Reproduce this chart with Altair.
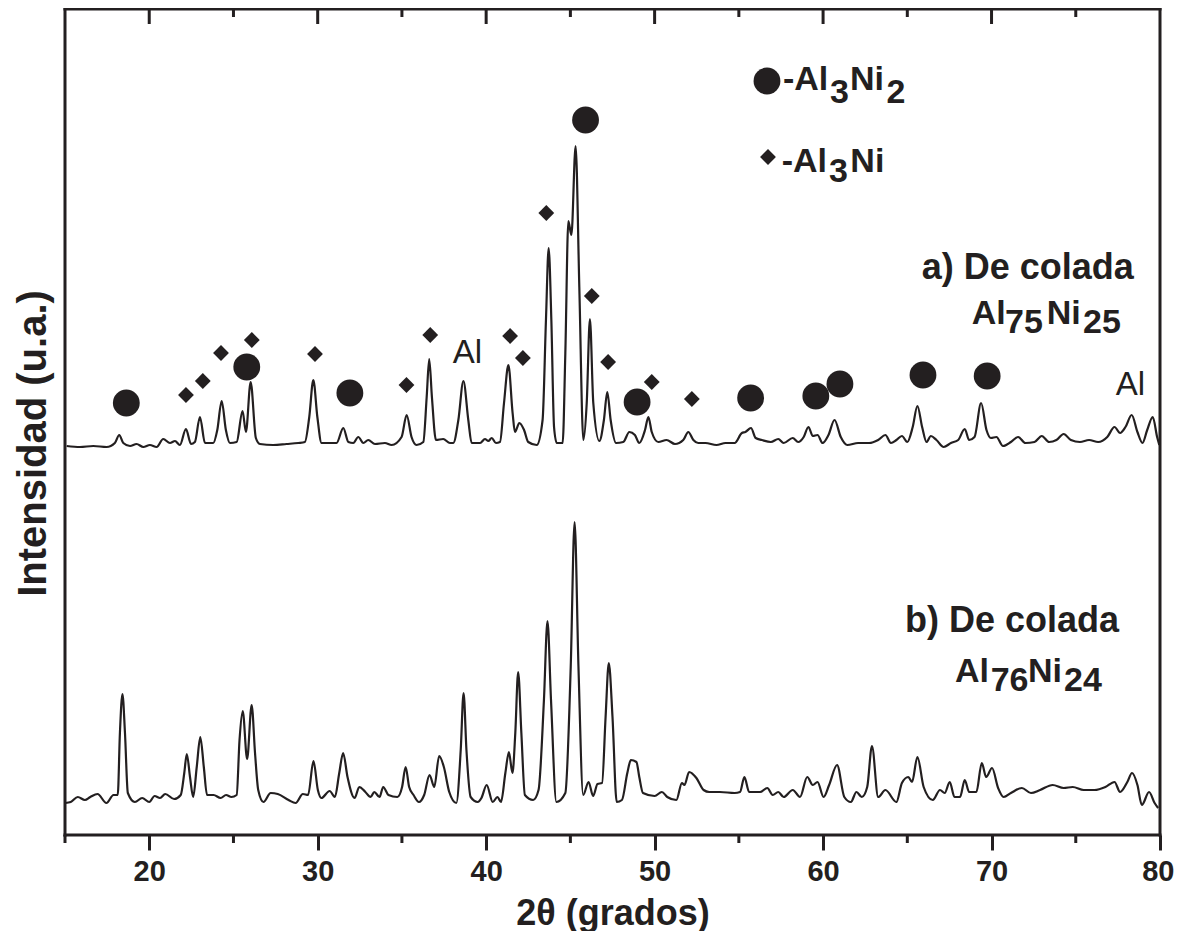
import altair as alt
import pandas as pd

INK = "#231f20"
FONT = "Liberation Sans"

# ---------------- data ----------------
# trace a) De colada Al75Ni25 (upper)
a_x = [15.10, 15.89, 16.68, 17.47, 17.96, 18.22, 18.46, 18.86, 19.25, 19.65, 20.04, 20.44, 20.83, 21.23,
       21.53, 21.82, 22.18, 22.48, 22.71, 23.01, 23.31, 23.80, 24.04, 24.30, 24.55, 24.79, 25.19, 25.54,
       25.74, 26.02, 26.33, 26.57, 27.36, 28.15, 28.85, 29.24, 29.50, 29.74, 29.98, 30.23, 31.12, 31.52,
       31.82, 32.11, 32.41, 32.71, 33.00, 33.40, 33.99, 34.39, 34.98, 35.28, 35.57, 35.87, 36.27, 36.47,
       36.62, 36.78, 37.02, 37.45, 37.85, 38.05, 38.35, 38.65, 38.94, 39.14, 39.64, 39.93, 40.13, 40.33,
       40.58, 40.82, 41.06, 41.32, 41.57, 41.71, 41.97, 42.25, 42.50, 43.00, 43.35, 43.55, 43.71, 43.87,
       44.03, 44.19, 44.54, 44.70, 44.88, 45.06, 45.31, 45.53, 45.77, 45.97, 46.16, 46.36, 46.72, 46.99,
       47.19, 47.39, 47.71, 48.14, 48.50, 48.83, 49.09, 49.43, 49.63, 49.83, 50.22, 50.71, 51.21, 51.70,
       52.00, 52.30, 52.59, 53.02, 53.67, 54.21, 54.75, 55.18, 55.39, 55.72, 56.00, 56.37, 56.90, 57.34,
       57.66, 58.20, 58.52, 58.85, 59.13, 59.39, 59.67, 59.97, 60.32, 60.68, 61.05, 61.44, 62.08, 62.73,
       63.27, 63.70, 64.03, 64.35, 64.68, 65.00, 65.32, 65.60, 65.88, 66.14, 66.40, 66.73, 67.16, 67.59,
       68.02, 68.41, 68.67, 68.99, 69.38, 69.70, 69.96, 70.29, 70.68, 71.15, 71.58, 72.01, 72.55, 72.98,
       73.42, 73.85, 74.28, 74.71, 75.25, 75.79, 76.33, 76.87, 77.30, 77.63, 77.95, 78.32, 78.66, 78.96,
       79.24, 79.57, 79.83, 79.96]
a_y = [387, 386, 387, 386, 390, 398, 390, 387, 389, 386, 388, 386, 394, 390,
       392, 388, 404, 389, 391, 416, 390, 390, 403, 432, 403, 390, 391, 422,
       401, 451, 395, 389, 388, 389, 390, 391, 416, 453, 416, 390, 390, 405,
       391, 390, 396, 390, 393, 389, 390, 388, 396, 418, 396, 388, 391, 436,
       474, 436, 393, 394, 390, 390, 413, 452, 413, 390, 390, 394, 392, 395,
       390, 391, 430, 468, 420, 401, 410, 403, 391, 388, 413, 513, 585, 513,
       406, 390, 390, 480, 612, 598, 687, 546, 393, 430, 514, 430, 392, 413,
       441, 413, 390, 391, 401, 398, 390, 403, 416, 401, 391, 393, 389, 393,
       401, 393, 390, 390, 388, 390, 390, 400, 401, 405, 395, 393, 391, 394,
       390, 395, 391, 396, 406, 397, 398, 390, 398, 413, 396, 388, 390, 390,
       393, 398, 390, 393, 397, 391, 406, 427, 406, 391, 397, 393, 386, 390,
       393, 404, 393, 396, 430, 403, 395, 396, 387, 391, 396, 390, 391, 397,
       391, 393, 399, 393, 391, 393, 391, 396, 406, 400, 406, 418, 401, 390,
       403, 416, 396, 388]

# trace b) De colada Al76Ni24 (lower)
b_x = [15.02, 15.34, 15.76, 16.18, 16.50, 16.93, 17.46, 17.88, 18.13, 18.26, 18.41, 18.56, 18.73, 19.15,
       19.58, 20.00, 20.32, 20.64, 20.95, 21.48, 21.87, 22.08, 22.23, 22.42, 22.61, 22.82, 23.03, 23.24,
       23.43, 23.82, 24.24, 24.56, 24.88, 25.19, 25.36, 25.55, 25.81, 26.08, 26.28, 26.47, 26.78, 27.21,
       27.63, 28.27, 28.69, 29.12, 29.43, 29.75, 30.01, 30.22, 30.71, 31.02, 31.28, 31.51, 31.77, 32.19,
       32.47, 32.83, 33.14, 33.36, 33.67, 33.89, 34.20, 34.73, 35.01, 35.22, 35.43, 35.69, 36.01, 36.32,
       36.64, 36.92, 37.21, 37.49, 37.81, 38.23, 38.49, 38.66, 38.83, 39.08, 39.50, 39.72, 40.03, 40.39,
       40.67, 40.88, 41.14, 41.35, 41.56, 41.73, 41.90, 42.09, 42.30, 42.79, 43.11, 43.43, 43.64, 43.85,
       44.17, 44.70, 45.02, 45.25, 45.48, 45.76, 46.08, 46.35, 46.61, 46.88, 47.09, 47.28, 47.50, 47.75,
       48.06, 48.38, 48.59, 48.92, 49.09, 49.31, 50.00, 50.43, 50.75, 51.29, 51.62, 51.77, 52.05, 52.48,
       52.91, 53.24, 53.88, 54.75, 55.07, 55.33, 55.61, 56.26, 56.69, 57.01, 57.34, 57.66, 58.20, 58.63,
       59.06, 59.39, 59.67, 60.03, 60.36, 60.83, 61.26, 61.65, 61.98, 62.30, 62.62, 62.90, 63.27, 63.70,
       64.35, 64.68, 65.06, 65.28, 65.60, 65.97, 66.51, 66.94, 67.22, 67.52, 67.80, 68.13, 68.41, 68.67,
       69.10, 69.42, 69.68, 70.03, 70.39, 70.72, 71.15, 71.80, 72.34, 72.88, 73.63, 74.28, 74.82, 75.47,
       76.11, 76.76, 77.30, 77.63, 78.06, 78.34, 78.66, 78.92, 79.35, 79.68, 79.89]
b_y = [30, 31, 36, 33, 36, 39, 30, 38, 38, 100, 139, 100, 40, 31,
       35, 31, 37, 35, 39, 34, 38, 60, 79, 56, 36, 66, 96, 66,
       38, 38, 35, 38, 36, 38, 93, 122, 74, 128, 80, 43, 31, 40,
       39, 33, 30, 39, 38, 72, 43, 35, 42, 36, 60, 80, 56, 35,
       46, 41, 36, 41, 36, 46, 38, 36, 46, 66, 46, 38, 31, 38,
       58, 46, 77, 66, 41, 30, 83, 140, 83, 36, 31, 35, 48, 31,
       36, 31, 60, 81, 60, 100, 161, 100, 38, 33, 43, 133, 212, 133,
       31, 40, 166, 311, 166, 38, 51, 37, 49, 50, 116, 170, 116, 31,
       33, 60, 73, 71, 56, 40, 37, 41, 36, 33, 50, 48, 61, 55,
       43, 41, 41, 40, 41, 56, 41, 41, 45, 38, 41, 36, 43, 36,
       56, 48, 51, 36, 48, 68, 36, 31, 41, 36, 46, 87, 36, 43,
       31, 50, 56, 51, 76, 46, 33, 43, 40, 51, 36, 36, 53, 41,
       41, 70, 56, 65, 45, 36, 40, 45, 40, 43, 48, 45, 46, 43,
       43, 46, 51, 41, 51, 60, 48, 28, 41, 30, 25]

# phase markers: Al3Ni2 (circles) and Al3Ni (diamonds), incl. legend symbols
circ_x = [18.64, 25.79, 31.91, 45.90, 48.96, 55.70, 59.57, 61.00, 65.93, 69.74, 56.67]
circ_y = [430, 466, 440, 713, 431, 435, 437, 449, 458, 457, 752]
diam_x = [22.18, 23.18, 24.26, 26.09, 29.84, 35.27, 36.68, 41.42, 42.18, 43.57, 46.27, 47.24, 49.83, 52.21, 56.73]
diam_y = [438, 452, 480, 493, 479, 448, 498, 497, 475, 620, 537, 471, 451, 434, 676]

# texts
big_txt = ["a) De colada", "b) De colada"]
big_x = [65.85, 64.86]
big_y = [553.7, 201.3]

form_txt = ["Al", "Ni", "Al", "Ni", "-Al", "Ni", "-Al", "Ni"]
form_x = [68.82, 73.27, 67.83, 72.16, 57.62, 61.60, 57.54, 61.62]
form_y = [508.7, 508.7, 151.3, 151.3, 743.0, 743.0, 661.3, 661.3]

sub_txt = ["75", "25", "76", "24", "3", "2", "3"]
sub_x = [70.80, 75.43, 69.95, 74.30, 60.41, 63.77, 60.35]
sub_y = [500.0, 500.0, 142.5, 142.5, 730.3, 730.3, 651.3]

al_txt = ["Al", "Al"]
al_x = [38.02, 77.38]
al_y = [470.3, 438.0]

major_ticks = [20, 30, 40, 50, 60, 70, 80]
minor_ticks = [15, 25, 35, 45, 55, 65, 75]
x_range = [15, 80]

# ---------------- chart ----------------
W, H = 1095, 826

xs = alt.Scale(domain=x_range, nice=False, zero=False)
ys = alt.Scale(domain=[-2, 824], nice=False, zero=False)

xaxis = alt.Axis(values=major_ticks, format="d", domain=False, grid=False,
                 tickSize=15, tickWidth=3, tickColor=INK,
                 labelFont=FONT, labelFontSize=29, labelFontWeight="bold", labelColor=INK,
                 labelPadding=7, labelFlush=True, labelFlushOffset=14,
                 titleFont=FONT, titleFontSize=36, titleFontWeight="bold", titleColor=INK,
                 titlePadding=10)
yaxis = alt.Axis(domain=False, grid=False, ticks=False, labels=False,
                 titleFont=FONT, titleFontSize=40, titleFontWeight="bold", titleColor=INK,
                 titlePadding=12, titleY=434)


def X(field):
    return alt.X(field, type="quantitative", scale=xs, axis=xaxis, title="2θ (grados)")


def Y(field):
    return alt.Y(field, type="quantitative", scale=ys, axis=yaxis, title="Intensidad (u.a.)")


lines = pd.concat([
    pd.DataFrame({"x": a_x, "y": a_y, "s": "a"}),
    pd.DataFrame({"x": b_x, "y": b_y, "s": "b"}),
])

line_layer = alt.Chart(lines).mark_line(color=INK, strokeWidth=2.2, interpolate="monotone").encode(
    x=X("x"), y=Y("y"), detail="s:N")

circ_layer = alt.Chart(pd.DataFrame({"x": circ_x, "y": circ_y})).mark_point(
    shape="circle", filled=True, size=720, color=INK, opacity=1, strokeWidth=0).encode(x=X("x"), y=Y("y"))

diam_layer = alt.Chart(pd.DataFrame({"x": diam_x, "y": diam_y})).mark_point(
    shape="diamond", filled=True, size=250, color=INK, opacity=1, strokeWidth=0).encode(x=X("x"), y=Y("y"))


def text_layer(t, xv, yv, size, weight):
    return alt.Chart(pd.DataFrame({"t": t, "x": xv, "y": yv})).mark_text(
        font=FONT, fontSize=size, fontWeight=weight, color=INK, align="left", baseline="alphabetic"
    ).encode(x=X("x"), y=Y("y"), text="t:N")


big_layer = text_layer(big_txt, big_x, big_y, 36, "bold")
form_layer = text_layer(form_txt, form_x, form_y, 34, "bold")
sub_layer = text_layer(sub_txt, sub_x, sub_y, 34, "bold")
al_layer = text_layer(al_txt, al_x, al_y, 33, "normal")

# frame of the plot area
frame_v = alt.Chart(pd.DataFrame({"x": x_range})).mark_rule(
    color=INK, strokeWidth=3, strokeCap="square").encode(x=X("x"), y=alt.value(0), y2=alt.value(H))
frame_h = alt.Chart(pd.DataFrame({"x": [x_range[0]] * 2, "x2": [x_range[1]] * 2, "py": [0, H]})).mark_rule(
    color=INK, strokeWidth=3, strokeCap="square").encode(
    x=X("x"), x2="x2", y=alt.Y("py:Q", scale=None, axis=None))

top_major = alt.Chart(pd.DataFrame({"x": major_ticks[:-1]})).mark_rule(color=INK, strokeWidth=3).encode(
    x=X("x"), y=alt.value(0), y2=alt.value(15))
top_minor = alt.Chart(pd.DataFrame({"x": minor_ticks[1:]})).mark_rule(color=INK, strokeWidth=3).encode(
    x=X("x"), y=alt.value(0), y2=alt.value(8))
bot_minor = alt.Chart(pd.DataFrame({"x": minor_ticks})).mark_rule(color=INK, strokeWidth=3).encode(
    x=X("x"), y=alt.value(H), y2=alt.value(H + 8))

chart = alt.layer(
    line_layer, circ_layer, diam_layer, big_layer, form_layer, sub_layer, al_layer,
    frame_v, frame_h, top_major, top_minor, bot_minor
).properties(
    width=W, height=H,
    background="white",
    autosize=alt.AutoSizeParams(type="none"),
    padding={"left": 57, "top": 1, "right": 14, "bottom": 96},
).configure_view(
    stroke=None
)

chart.save("out.html", embed_options={"renderer": "svg", "actions": False})
